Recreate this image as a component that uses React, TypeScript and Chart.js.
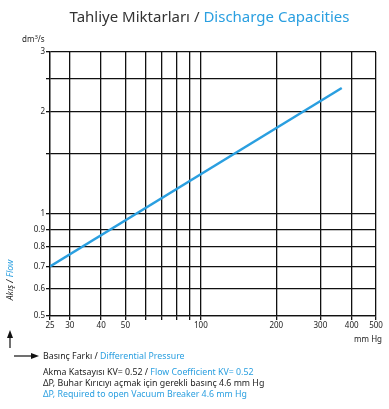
import React, { useEffect, useRef } from "react";
import { Chart, registerables } from "chart.js";

Chart.register(...registerables);

const pressure = [25, 365];
const flow = [0.7, 2.35];
const xGrid = [25, 30, 40, 50, 60, 70, 80, 90, 100, 200, 300, 400, 500];
const xLabeled = [25, 30, 40, 50, 100, 200, 300, 400, 500];
const yGrid = [0.5, 0.6, 0.7, 0.8, 0.9, 1, 1.5, 2, 2.5, 3];
const yLabeled = [0.5, 0.6, 0.7, 0.8, 0.9, 1, 2, 3];

const BLUE = "#2a9fe0";
const DARK = "#222";
const FONT = "'Noto Sans', 'DejaVu Sans', sans-serif";

export default function App() {
  const ref = useRef<HTMLCanvasElement>(null);

  useEffect(() => {
    if (!ref.current) return;
    const chart = new Chart(ref.current, {
      type: "line",
      data: {
        datasets: [
          {
            data: pressure.map((x, i) => ({ x, y: flow[i] })),
            borderColor: BLUE,
            borderWidth: 2.5,
            pointRadius: 0,
            fill: false,
          },
        ],
      },
      options: {
        animation: false,
        responsive: false,
        maintainAspectRatio: false,
        layout: { padding: { top: 52, right: 13, left: 0, bottom: 0 } },
        plugins: { legend: { display: false }, tooltip: { enabled: false } },
        scales: {
          x: {
            type: "logarithmic",
            min: 25,
            max: 500,
            afterBuildTicks: (s: any) => {
              s.ticks = xGrid.map((v) => ({ value: v }));
            },
            afterFit: (s: any) => {
              s.height = 93;
            },
            ticks: {
              autoSkip: false,
              maxRotation: 0,
              color: DARK,
              padding: 1,
              font: { family: FONT, size: 8 },
              callback: (v: any) => (xLabeled.includes(Number(v)) ? String(v) : ""),
            },
            grid: { color: "#111", lineWidth: 1.3, tickLength: 4, drawTicks: true },
            border: { color: "#111", width: 1.3 },
          },
          y: {
            type: "logarithmic",
            min: 0.5,
            max: 3,
            afterBuildTicks: (s: any) => {
              s.ticks = yGrid.map((v) => ({ value: v }));
            },
            afterFit: (s: any) => {
              s.width = 50;
            },
            ticks: {
              autoSkip: false,
              color: DARK,
              padding: 1,
              font: { family: FONT, size: 8 },
              callback: (v: any) => (yLabeled.includes(Number(v)) ? String(v) : ""),
            },
            grid: { color: "#111", lineWidth: 1.3, tickLength: 4, drawTicks: true },
            border: { color: "#111", width: 1.3 },
          },
        },
      },
    });
    return () => chart.destroy();
  }, []);

  const small: React.CSSProperties = {
    position: "absolute",
    fontFamily: FONT,
    fontSize: 8.8,
    color: DARK,
    whiteSpace: "nowrap",
    lineHeight: "10px",
  };

  return (
    <div
      style={{
        position: "fixed",
        left: 0,
        top: 0,
        width: 389,
        height: 409,
        background: "#fff",
        overflow: "hidden",
      }}
    >
      <canvas ref={ref} width={389} height={409} style={{ position: "absolute", left: 0, top: 0 }} />
      <div
        style={{
          position: "absolute",
          left: 30,
          width: 359,
          top: 6,
          textAlign: "center",
          fontFamily: FONT,
          fontSize: 15,
          color: "#333",
          whiteSpace: "nowrap",
        }}
      >
        Tahliye Miktarları / <span style={{ color: BLUE }}>Discharge Capacities</span>
      </div>
      <div style={{ ...small, fontSize: 8, left: 22, top: 34 }}>
        dm<sup style={{ fontSize: 6, verticalAlign: "3px", lineHeight: 0 }}>3</sup>/s
      </div>
      <div style={{ ...small, fontSize: 8, right: 7, top: 334 }}>mm Hg</div>
      <div
        style={{
          ...small,
          fontStyle: "italic",
          left: 10,
          top: 280,
          transform: "translate(-50%, -50%) rotate(-90deg)",
        }}
      >
        Akış / <span style={{ color: BLUE }}>Flow</span>
      </div>
      <svg
        width={389}
        height={409}
        style={{ position: "absolute", left: 0, top: 0, pointerEvents: "none" }}
      >
        <line x1={10} y1={348} x2={10} y2={336} stroke="#111" strokeWidth={1.2} />
        <polygon points="10,330 7,338 13,338" fill="#111" />
        <line x1={14} y1={356} x2={33} y2={356} stroke="#111" strokeWidth={1.2} />
        <polygon points="39,356 31,353 31,359" fill="#111" />
      </svg>
      <div style={{ ...small, left: 43, top: 351 }}>
        Basınç Farkı / <span style={{ color: BLUE }}>Differential Pressure</span>
      </div>
      <div style={{ ...small, left: 43, top: 367 }}>
        Akma Katsayısı KV= 0.52 / <span style={{ color: BLUE }}>Flow Coefficient KV= 0.52</span>
      </div>
      <div style={{ ...small, left: 43, top: 378 }}>
        ΔP, Buhar Kırıcıyı açmak için gerekli basınç 4.6 mm Hg
      </div>
      <div style={{ ...small, left: 43, top: 389, color: BLUE }}>
        ΔP, Required to open Vacuum Breaker 4.6 mm Hg
      </div>
    </div>
  );
}
